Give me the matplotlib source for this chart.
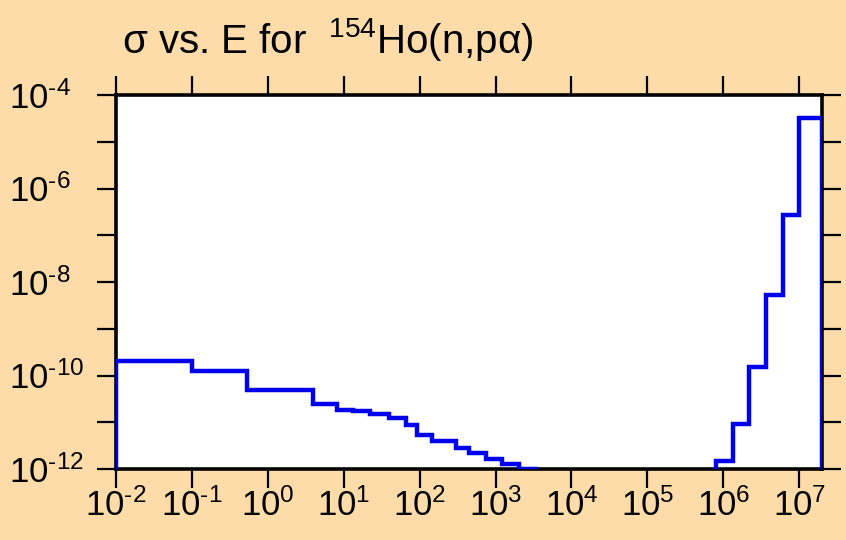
import matplotlib
matplotlib.use("Agg")
import matplotlib.pyplot as plt
import numpy as np

plt.rcParams['font.family'] = ['Liberation Sans', 'DejaVu Sans']
plt.rcParams['mathtext.fontset'] = 'custom'
plt.rcParams['mathtext.rm'] = 'Liberation Sans'
plt.rcParams['mathtext.it'] = 'Liberation Sans'

# group boundaries (eV) and cross section (b)
energy_edges = [1e-2, 0.1, 0.53, 3.9, 8.1, 13.4, 22, 39, 66, 92, 146, 302, 445,
                740, 1230, 2040, 3400, 8.1e5, 1.34e6, 2.2e6, 3.7e6, 6.1e6, 1e7, 2e7]
sigma = [2.0e-10, 1.26e-10, 5.0e-11, 2.4e-11, 1.8e-11, 1.7e-11, 1.5e-11, 1.23e-11,
         8.9e-12, 5.4e-12, 3.9e-12, 2.8e-12, 2.2e-12, 1.6e-12, 1.28e-12, 1.0e-12,
         1e-14, 1.5e-12, 9.3e-12, 1.55e-10, 5.4e-9, 2.7e-7, 3.2e-5]

x_exps = list(range(-2, 8))
y_exps = list(range(-12, -3))


def exp_label(e):
    # plain hyphen in the exponent, like the original
    return r'$10^{\text{%d}}$' % e


bg = '#fddcaa'
fig = plt.figure(figsize=(8.46, 5.40), dpi=100, facecolor=bg)
ax = fig.add_axes([116/846, 1-469/540, 706/846, 374/540])
ax.set_facecolor('white')

ax.stairs(sigma, energy_edges, baseline=1e-14, color='#0000ee', lw=3.2, zorder=3)

ax.set_xscale('log')
ax.set_yscale('log')
ax.set_xlim(1e-2, 2e7)
ax.set_ylim(1e-12, 1e-4)

ax.set_xticks([10.0**e for e in x_exps])
ax.set_xticklabels([exp_label(e) for e in x_exps])
ax.set_yticks([10.0**e for e in y_exps])
ax.set_yticklabels([exp_label(e) if e % 2 == 0 else '' for e in y_exps])
ax.minorticks_off()

ax.tick_params(axis='both', which='major', direction='out', length=14, width=1.6,
               labelsize=25, top=True, right=True, color='black')
ax.tick_params(axis='x', pad=0)
# y labels are left aligned at the figure edge in the original
ax.tick_params(axis='y', pad=63)
for lab in ax.get_yticklabels():
    lab.set_horizontalalignment('left')
for s in ax.spines.values():
    s.set_linewidth(2.6)

fig.text(122/846, 1-53/540, r'σ vs. E for  $^{\mathrm{154}}$Ho(n,pα)', fontsize=29,
         ha='left', va='baseline')

fig.savefig('out.png', dpi=100, facecolor=bg)
